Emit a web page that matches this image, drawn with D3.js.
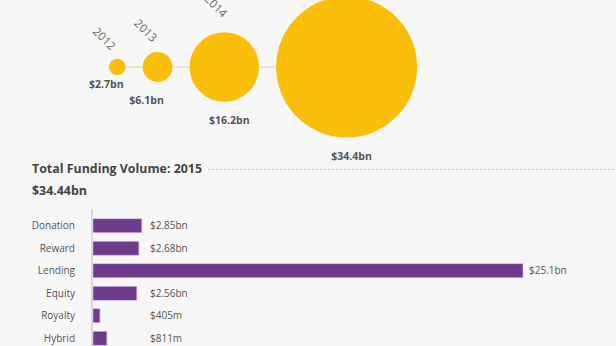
<!DOCTYPE html>
<html><head><meta charset="utf-8">
<script src="https://cdn.jsdelivr.net/npm/d3@7/dist/d3.min.js"></script>
<style>
html,body{margin:0;padding:0;background:#f7f7f7;}
svg{display:block;font-family:"Open Sans",sans-serif;}
</style></head>
<body>
<svg id="c" width="616" height="346"></svg>
<script>
const years = ["2012","2013","2014","2015"];
const yearValues = [2.7, 6.1, 16.2, 34.4];
const yearLabels = ["$2.7bn","$6.1bn","$16.2bn","$34.4bn"];

const categories = ["Donation","Reward","Lending","Equity","Royalty","Hybrid"];
const catValues = [2.85, 2.68, 25.1, 2.56, 0.405, 0.811];
const catLabels = ["$2.85bn","$2.68bn","$25.1bn","$2.56bn","$405m","$811m"];

const title = "Total Funding Volume: 2015";
const total = "$34.44bn";

const svg = d3.select("#c");
const W = 616, H = 346;

// ---- bubbles ----
const r = d3.scaleLinear().domain([0, 34.4]).range([3, 70.5]);
const cy = 67, gap = 17;
let edge = 109;
const bubbles = yearValues.map((v,i) => {
  const rr = r(v);
  const cx = edge + rr;
  edge = cx + rr + gap;
  return {year: years[i], v, label: yearLabels[i], r: rr, cx};
});

svg.append("line")
  .attr("x1", bubbles[0].cx).attr("x2", bubbles[bubbles.length-1].cx)
  .attr("y1", cy).attr("y2", cy)
  .attr("stroke", "#d4d4d4").attr("stroke-width", 1);

svg.selectAll("circle.b").data(bubbles).join("circle")
  .attr("class","b")
  .attr("cx", d => d.cx).attr("cy", cy).attr("r", d => d.r)
  .attr("fill", "#fbbf0b");

svg.selectAll("text.yr").data(bubbles).join("text")
  .attr("class","yr")
  .attr("text-anchor","end")
  .attr("transform", d => `translate(${d.cx - 8 + d.r * 0.17},${cy - d.r - 6 - d.r * 0.23}) rotate(45)`)
  .attr("fill","#6a6a6a").attr("font-size", 11.5).attr("font-weight", 400)
  .text(d => d.year);

svg.selectAll("text.bv").data(bubbles).join("text")
  .attr("class","bv")
  .attr("text-anchor","middle")
  .attr("x", d => d.cx + (d.r < 20 ? -11 : 5))
  .attr("y", d => cy + d.r + (d.r < 10 ? 13 : 22))
  .attr("fill","#555").attr("font-size", 10.5).attr("font-weight", 700)
  .text(d => d.label);

// ---- title ----
const t = svg.append("text").attr("x", 32).attr("y", 173)
  .attr("fill","#444").attr("font-size", 12.4).attr("font-weight", 700)
  .text(title);
const tw = t.node().getComputedTextLength();
svg.append("line").attr("x1", 32 + tw + 6).attr("x2", W).attr("y1", 169.5).attr("y2", 169.5)
  .attr("stroke","#c8c8c8").attr("stroke-dasharray","2,2");
svg.append("text").attr("x", 32).attr("y", 195)
  .attr("fill","#444").attr("font-size", 12.4).attr("font-weight", 700)
  .text(total);

// ---- bars ----
const x = d3.scaleLinear().domain([0, 25.1]).range([93, 523]);
const y = d3.scaleBand().domain(categories).range([214.5, 349.5]).paddingInner(0.38).paddingOuter(0.19);

svg.append("line").attr("x1", 92).attr("x2", 92).attr("y1", 209).attr("y2", H)
  .attr("stroke","#cfcfcf").attr("stroke-width",1.5);

const rows = categories.map((c,i) => ({c, v: catValues[i], label: catLabels[i]}));

svg.selectAll("rect.bar").data(rows).join("rect")
  .attr("class","bar")
  .attr("x", x(0)).attr("y", d => y(d.c))
  .attr("width", d => x(d.v) - x(0)).attr("height", y.bandwidth())
  .attr("fill","#6e3b8c").attr("stroke","#d9b8ee").attr("stroke-width",0.6);

svg.selectAll("text.cat").data(rows).join("text")
  .attr("class","cat")
  .attr("x", 75).attr("y", d => y(d.c) + y.bandwidth()/2).attr("dy","0.35em")
  .attr("text-anchor","end").attr("fill","#555").attr("font-size", 10)
  .text(d => d.c);

svg.selectAll("text.val").data(rows).join("text")
  .attr("class","val")
  .attr("x", d => Math.max(150, x(d.v) + 6)).attr("y", d => y(d.c) + y.bandwidth()/2).attr("dy","0.35em")
  .attr("fill","#555").attr("font-size", 10)
  .text(d => d.label);
</script>
</body></html>
